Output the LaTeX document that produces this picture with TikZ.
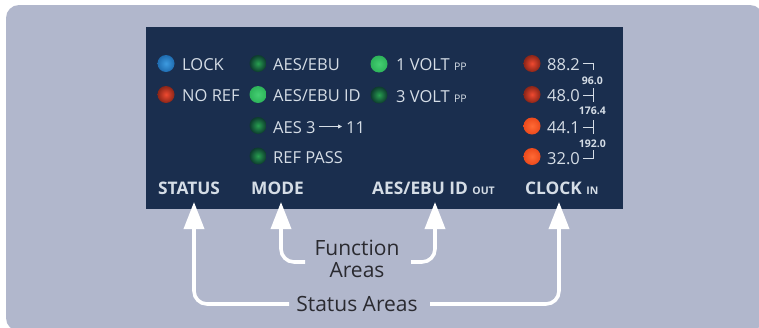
\documentclass[tikz,border=0pt]{standalone}
\usepackage{fontspec}
\setmainfont{Open Sans}
\usetikzlibrary{arrows.meta}
\definecolor{bgblue}{HTML}{B1B7CC}
\definecolor{panel}{HTML}{1A2E4E}
\definecolor{lbl}{HTML}{D5DDE6}
\definecolor{ink}{HTML}{2A2A30}
\definecolor{bluein}{HTML}{3D9BE0}\definecolor{blueout}{HTML}{1F6CB0}
\definecolor{redin}{HTML}{F04A30}\definecolor{redout}{HTML}{8A2518}
\definecolor{orangein}{HTML}{FF6A35}\definecolor{orangeout}{HTML}{EC4A1C}
\definecolor{gonin}{HTML}{45CF72}\definecolor{gonout}{HTML}{2DB35A}
\definecolor{goffin}{HTML}{28A050}\definecolor{goffout}{HTML}{0D3A2E}
\tikzset{
  x=1pt,y=-1pt,
  lbl/.style={anchor=base west,text=lbl,inner sep=0pt,font=\fontsize{16.5}{17}\selectfont},
  head/.style={anchor=base west,text=lbl,inner sep=0pt,font=\fontsize{17.3}{18}\selectfont\bfseries},
  tiny lbl/.style={anchor=base east,text=lbl,inner sep=0pt,font=\fontsize{10.5}{11}\selectfont\bfseries},
  captxt/.style={text=ink,inner sep=0pt,font=\fontsize{21}{22}\selectfont},
  led/.style={circle,inner sep=0pt,minimum size=17pt},
  bluel/.style={led,inner color=bluein,outer color=blueout},
  redl/.style={led,inner color=redin,outer color=redout},
  orangel/.style={led,inner color=orangein,outer color=orangeout},
  greenon/.style={led,inner color=gonin,outer color=gonout},
  greenoff/.style={led,inner color=goffin,outer color=goffout},
  callout/.style={draw=white,line width=3.6pt,rounded corners=13pt,-{Triangle[length=27pt,width=20pt,fill=white]}},
  bracket/.style={draw=lbl,line width=1pt}
}
\newcommand{\sm}[1]{{\fontsize{10.5}{11}\selectfont #1}}
\begin{document}
\begin{tikzpicture}
\useasboundingbox (0,0) rectangle (759,327);
\fill[white] (0,0) rectangle (759,327);
\fill[bgblue,rounded corners=13pt] (6,5) rectangle (763,331);
\fill[panel] (146,27) rectangle (623,209);
% LEDs
\node[bluel] (l1) at (166,63.5) {};
\node[redl] (l2) at (166,94.5) {};
\node[greenoff] (m1) at (258,63.5) {};
\node[greenon] (m2) at (258,94.5) {};
\node[greenoff] (m3) at (258,125.5) {};
\node[greenoff] (m4) at (258,156) {};
\node[greenon] (v1) at (379,64) {};
\node[greenoff] (v2) at (379,95) {};
\node[redl] (c1) at (532,63.5) {};
\node[redl] (c2) at (532,94.5) {};
\node[orangel] (c3) at (532,126) {};
\node[orangel] (c4) at (532,156.5) {};
% labels
\node[lbl] (t1) at (182,70) {LOCK};
\node[lbl] (t2) at (182,101) {NO REF};
\node[lbl] (t3) at (273,70) {AES/EBU};
\node[lbl] (t4) at (273,101) {AES/EBU ID};
\node[lbl] (t5) at (273,133) {AES 3};
\node[lbl] (t5b) at (346,133) {11};
\node[lbl] (t6) at (273,163) {REF PASS};
\node[lbl] (t7) at (396,70) {1 VOLT \sm{PP}};
\node[lbl] (t8) at (396,102) {3 VOLT \sm{PP}};
\node[lbl] (f1) at (547,70) {88.2};
\node[lbl] (f2) at (547,101) {48.0};
\node[lbl] (f3) at (547,133) {44.1};
\node[lbl] (f4) at (547,164) {32.0};
\node[tiny lbl] (s1) at (603,84) {96.0};
\node[tiny lbl] (s2) at (606,114) {176.4};
\node[tiny lbl] (s3) at (606,147) {192.0};
\draw[bracket] (583,63.5) -- (593,63.5) -- (593,70);
\draw[bracket] (593,88) -- (593,102) (583,95) -- (593,95);
\draw[bracket] (593,120) -- (593,134) (583,127) -- (593,127);
\draw[bracket] (593,150) -- (593,158) -- (583,158);
\coordinate (arr3) at (319,126.5);
\coordinate (arr11) at (342,126.5);
\draw[draw=lbl,line width=.8pt,-{Triangle[length=4pt,width=4pt]}] (arr3) -- (arr11);
% headers
\node[head] (h1) at (158,194) {STATUS};
\node[head] (h2) at (251,194) {MODE};
\node[head] (h3) at (372,194) {AES/EBU ID \sm{OUT}};
\node[head] (h4) at (525,194) {CLOCK \sm{IN}};
% captions
\node[captxt] (fa) at (357,248) {Function};
\node[captxt] (ar) at (357,270) {Areas};
\node[captxt] (sa) at (357,304) {Status Areas};
% connectors
\coordinate (a1) at (194,202);
\coordinate (a2) at (281,202);
\coordinate (a3) at (435,202);
\coordinate (a4) at (559,202);
\coordinate (fl) at (305,262);
\coordinate (fr) at (411,262);
\coordinate (sl) at (289,304);
\coordinate (sr) at (430,304);
\draw[callout] (sl) -| (a1);
\draw[callout] (sr) -| (a4);
\draw[callout] (fl) -| (a2);
\draw[callout] (fr) -| (a3);
\end{tikzpicture}
\end{document}
